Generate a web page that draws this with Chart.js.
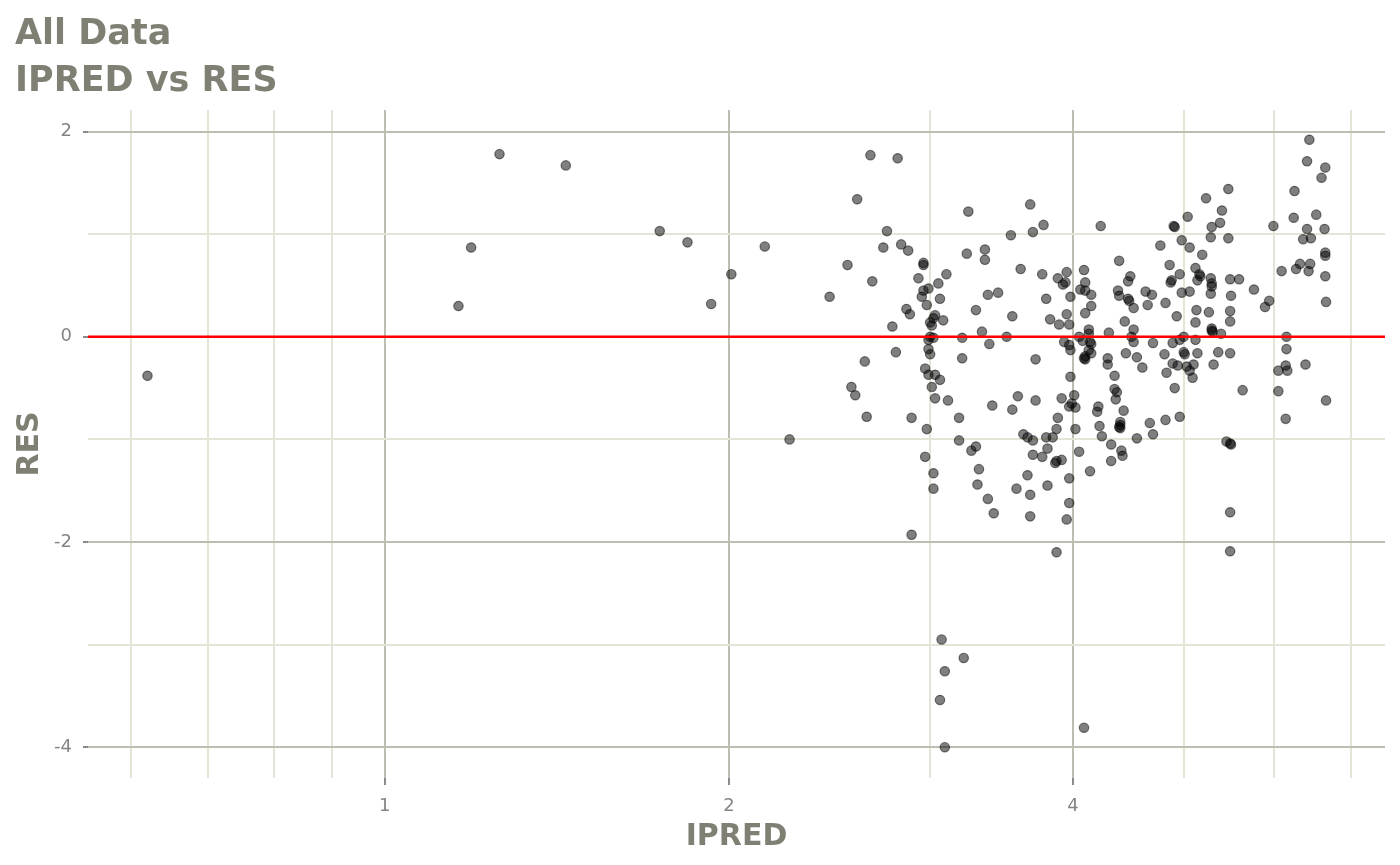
<!DOCTYPE html>
<html>
<head>
<meta charset="utf-8">
<title>IPRED vs RES</title>
<script src="https://cdn.jsdelivr.net/npm/chart.js@4.4.1/dist/chart.umd.min.js"></script>
<style>
  html, body { margin: 0; padding: 0; background: #ffffff; }
  canvas { display: block; }
</style>
</head>
<body>
<canvas id="resChart" width="1400" height="865"></canvas>
<script>
const titleLines = ['All Data', 'IPRED vs RES'];
const xLabel = 'IPRED';
const yLabel = 'RES';

// log x axis: labelled breaks and the extra (minor) grid lines
const xMajorTicks = [1, 2, 4];
const xMinorTicks = [0.6, 0.7, 0.8, 0.9, 3, 5, 6, 7];
const yMajorTicks = [-4, -2, 0, 2];
const yMinorTicks = [-3, -1, 1];
const xRange = [0.55, 7.5];
const yRange = [-4.3, 2.21];
const refLineY = 0;

// individual predictions
const ipred = [
  0.62, 1.16, 1.19, 1.26, 1.44, 1.74, 1.84, 1.93, 2.01, 2.15, 2.26, 2.45,
  2.66, 2.81, 2.59, 3.24, 2.75, 2.73, 2.83, 2.87, 3.23, 3.35,
  3.35, 2.96, 2.96, 2.54, 3.10, 2.93, 2.67, 3.05, 2.99, 2.96,
  2.95, 3.06, 3.37, 3.44, 2.98, 2.86, 2.88, 3.29, 3.03, 3.02,
  3.00, 3.08, 3.01, 2.78, 3.33, 3.00, 3.02, 3.20, 3.38, 2.99,
  2.99, 3.00, 2.80, 2.63, 3.20, 2.97, 2.99, 3.03, 3.06, 2.56,
  2.58, 3.01, 3.03, 3.11, 3.40, 2.64, 2.89, 3.18, 2.98, 3.18,
  3.29, 3.26, 2.97, 3.02, 3.31, 3.02, 3.30, 3.37, 3.41, 2.89,
  3.07, 3.21, 3.09, 3.06, 3.09,
  3.67, 3.77, 3.69, 3.53, 4.23, 4.90, 4.91, 4.77, 4.39, 4.86,
  3.60, 3.76, 3.95, 4.09, 3.88, 3.94, 3.92, 4.10, 4.49, 4.47,
  4.87, 4.88, 4.06, 4.10, 4.15, 3.98, 3.79, 4.38, 4.39, 4.47,
  4.48, 4.63, 4.69, 4.65, 4.82, 4.52, 4.15, 3.54, 3.95, 4.10,
  3.82, 3.89, 3.97, 4.44, 4.52, 4.93, 4.13, 4.13, 4.30, 3.50,
  4.05, 4.50, 3.93, 4.08, 4.14, 4.15, 4.52, 4.70, 4.89, 3.97,
  3.98, 4.13, 4.15, 4.10, 4.10, 4.09, 3.71, 4.29, 4.29, 4.45,
  4.55, 4.60, 4.81, 4.89, 4.83, 4.35, 3.98, 4.35, 4.37, 4.36,
  4.91, 3.58, 3.71, 3.91, 4.01, 3.99, 3.97, 4.02, 3.54, 4.21,
  4.20, 4.43, 3.88, 4.40, 4.40, 4.40, 4.39, 4.67, 4.82, 4.96,
  4.22, 3.87, 4.02, 3.62, 3.65, 3.69, 3.79, 3.84, 4.24, 4.55,
  4.70, 4.32, 4.41, 4.42, 3.80, 3.69, 3.76, 4.05, 3.91, 3.87,
  3.86, 4.32, 4.14, 3.65, 3.97, 3.57, 3.80,
  3.67, 3.97, 3.67, 3.95, 3.87, 5.49, 5.49, 4.09,
  6.44, 6.41, 6.65, 6.60, 5.47, 6.25, 5.23, 5.40, 5.04, 6.24,
  6.53, 5.38, 5.29, 5.99, 6.41, 6.64, 5.28, 5.47, 6.36, 6.46,
  4.98, 5.06, 5.19, 6.65, 6.65, 5.12, 5.16, 5.17, 4.96, 5.14,
  5.28, 5.29, 5.29, 5.28, 5.49, 5.59, 6.09, 6.27, 6.32, 6.45,
  6.43, 6.65, 4.98, 5.06, 5.76, 5.50, 5.94, 5.89, 6.66, 5.13,
  5.26, 5.49, 5.12, 5.49, 5.29, 5.29, 5.30, 5.39, 5.00, 4.96,
  5.12, 6.15, 6.15, 5.00, 5.01, 5.14, 5.36, 5.49, 4.94, 5.03,
  5.10, 5.06, 5.09, 5.31, 6.14, 6.05, 6.16, 6.39, 5.63, 6.05,
  6.66, 6.14, 5.45, 5.49, 5.50
];

// residuals, same order as ipred
const res = [
  -0.38, 0.30, 0.87, 1.78, 1.67, 1.03, 0.92, 0.32, 0.61, 0.88, -1.00, 0.39,
  1.77, 1.74, 1.34, 1.22, 1.03, 0.87, 0.90, 0.84, 0.81, 0.85,
  0.75, 0.72, 0.70, 0.70, 0.61, 0.57, 0.54, 0.52, 0.47, 0.45,
  0.39, 0.37, 0.41, 0.43, 0.31, 0.27, 0.22, 0.26, 0.21, 0.18,
  0.14, 0.16, 0.11, 0.10, 0.05, 0.00, -0.01, -0.01, -0.07, -0.03,
  -0.12, -0.17, -0.15, -0.24, -0.21, -0.31, -0.37, -0.37, -0.42, -0.49,
  -0.57, -0.49, -0.60, -0.62, -0.67, -0.78, -0.79, -0.79, -0.90, -1.01,
  -1.07, -1.11, -1.17, -1.33, -1.29, -1.48, -1.44, -1.58, -1.72, -1.93,
  -2.95, -3.13, -3.26, -3.54, -4.00,
  1.29, 1.09, 1.02, 0.99, 1.08, 1.08, 1.07, 0.89, 0.74, 0.70,
  0.66, 0.61, 0.63, 0.65, 0.57, 0.53, 0.51, 0.53, 0.59, 0.54,
  0.53, 0.55, 0.46, 0.45, 0.41, 0.39, 0.37, 0.45, 0.40, 0.37,
  0.35, 0.44, 0.41, 0.31, 0.33, 0.28, 0.30, 0.20, 0.22, 0.23,
  0.17, 0.12, 0.12, 0.15, 0.07, 0.20, 0.07, 0.03, 0.04, 0.00,
  0.00, 0.00, -0.05, -0.04, -0.05, -0.07, -0.05, -0.06, -0.06, -0.08,
  -0.13, -0.13, -0.16, -0.19, -0.22, -0.21, -0.22, -0.21, -0.27, -0.16,
  -0.20, -0.30, -0.17, -0.26, -0.35, -0.38, -0.39, -0.51, -0.54, -0.61,
  -0.50, -0.58, -0.62, -0.60, -0.57, -0.65, -0.68, -0.69, -0.71, -0.68,
  -0.73, -0.72, -0.79, -0.83, -0.89, -0.86, -0.88, -0.84, -0.81, -0.78,
  -0.87, -0.90, -0.90, -0.95, -0.98, -1.01, -0.98, -0.98, -0.97, -0.99,
  -0.95, -1.05, -1.11, -1.16, -1.09, -1.15, -1.17, -1.12, -1.20, -1.21,
  -1.23, -1.21, -1.31, -1.35, -1.38, -1.48, -1.45,
  -1.54, -1.62, -1.75, -1.78, -2.10, -1.71, -2.09, -3.81,
  1.92, 1.71, 1.65, 1.55, 1.44, 1.42, 1.35, 1.23, 1.17, 1.16,
  1.19, 1.11, 1.07, 1.08, 1.05, 1.05, 0.97, 0.96, 0.95, 0.96,
  0.94, 0.87, 0.80, 0.82, 0.79, 0.67, 0.61, 0.59, 0.61, 0.55,
  0.57, 0.52, 0.49, 0.42, 0.56, 0.56, 0.64, 0.66, 0.71, 0.71,
  0.64, 0.59, 0.43, 0.44, 0.46, 0.40, 0.35, 0.29, 0.34, 0.26,
  0.24, 0.25, 0.14, 0.15, 0.08, 0.06, 0.05, 0.03, 0.00, -0.03,
  -0.03, 0.00, -0.12, -0.15, -0.17, -0.16, -0.15, -0.16, -0.28, -0.29,
  -0.27, -0.33, -0.40, -0.27, -0.28, -0.33, -0.33, -0.27, -0.52, -0.53,
  -0.62, -0.80, -1.02, -1.04, -1.05
];

const titleGray = '#7f7f74';
const tickGray = '#858585';
const majorGrid = '#bdbdb1';
const minorGrid = '#e5e5d7';
const fontFamily = "'DejaVu Sans', sans-serif";

const points = ipred.map((v, i) => ({ x: v, y: res[i] }));
const xTicks = xMinorTicks.concat(xMajorTicks).sort((a, b) => a - b);
const yTicks = yMinorTicks.concat(yMajorTicks).sort((a, b) => a - b);

function gridFor(majors) {
  return {
    color: c => majors.includes(c.tick.value) ? majorGrid : minorGrid,
    lineWidth: 2,
    tickColor: c => majors.includes(c.tick.value) ? '#8a8a8a' : 'rgba(0,0,0,0)',
    tickWidth: 2
  };
}

new Chart(document.getElementById('resChart'), {
  type: 'scatter',
  data: {
    datasets: [
      {
        type: 'line',
        data: [{ x: xRange[0], y: refLineY }, { x: xRange[1], y: refLineY }],
        borderColor: '#ff0000',
        borderWidth: 2.5,
        pointRadius: 0,
        order: 0
      },
      {
        data: points,
        backgroundColor: 'rgba(0,0,0,0.5)',
        borderColor: 'rgba(0,0,0,0.5)',
        borderWidth: 1.2,
        pointRadius: 4.7,
        order: 1
      }
    ]
  },
  options: {
    responsive: false,
    animation: false,
    devicePixelRatio: 1,
    layout: { padding: { left: 15, right: 15, top: 0, bottom: 0 } },
    plugins: {
      legend: { display: false },
      tooltip: { enabled: false },
      title: {
        display: true,
        text: titleLines,
        align: 'start',
        color: titleGray,
        font: { family: fontFamily, size: 35, weight: 'bold', lineHeight: '47px' },
        padding: { top: 11, bottom: 5 }
      }
    },
    scales: {
      x: {
        type: 'logarithmic',
        min: xRange[0],
        max: xRange[1],
        bounds: 'data',
        afterBuildTicks: s => { s.ticks = xTicks.map(v => ({ value: v })); },
        afterFit: s => { s.height = 87; },
        ticks: {
          autoSkip: false,
          maxRotation: 0,
          padding: 11,
          color: tickGray,
          font: { family: fontFamily, size: 18 },
          callback: v => xMajorTicks.includes(v) ? String(v) : ''
        },
        grid: Object.assign(gridFor(xMajorTicks), { tickLength: 7 }),
        border: { display: false },
        title: {
          display: true,
          text: xLabel,
          color: titleGray,
          font: { family: fontFamily, size: 30, weight: 'bold', lineHeight: '30px' },
          padding: { top: 0, bottom: 13 }
        }
      },
      y: {
        type: 'linear',
        min: yRange[0],
        max: yRange[1],
        bounds: 'data',
        afterBuildTicks: s => { s.ticks = yTicks.map(v => ({ value: v })); },
        afterFit: s => { s.width = 73; },
        ticks: {
          autoSkip: false,
          padding: 11,
          color: tickGray,
          font: { family: fontFamily, size: 18 },
          callback: v => yMajorTicks.includes(v) ? String(v) : ''
        },
        grid: Object.assign(gridFor(yMajorTicks), { tickLength: 5 }),
        border: { display: false },
        title: {
          display: true,
          text: yLabel,
          color: titleGray,
          font: { family: fontFamily, size: 30, weight: 'bold', lineHeight: '30px' },
          padding: { top: 0, bottom: 0 }
        }
      }
    }
  }
});
</script>
</body>
</html>
